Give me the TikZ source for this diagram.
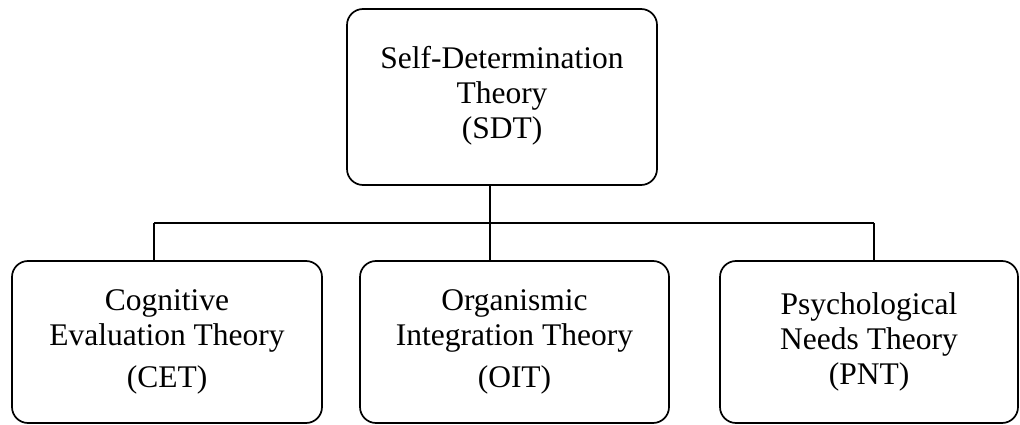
\documentclass[tikz,border=0pt]{standalone}
\usepackage{fontspec}
\setmainfont{Liberation Serif}
\begin{document}
\begin{tikzpicture}[x=1pt,y=1pt,
  box/.style={draw, line width=1.7pt, rounded corners=16pt, align=center,
    inner sep=0pt, font=\fontsize{31.5}{35}\selectfont},
  link/.style={draw, line width=1.5pt}]
\useasboundingbox (0,0) rectangle (1020,-425);
\node[box, minimum width=310pt, minimum height=176pt] (sdt) at (502,-97)
  {Self-Determination\\Theory\\(SDT)\rule[-10pt]{0pt}{10pt}};
\node[box, minimum width=310pt, minimum height=162pt] (cet) at (167,-342)
  {Cognitive\\Evaluation Theory\\[7pt](CET)};
\node[box, minimum width=309pt, minimum height=162pt] (oit) at (514.5,-342)
  {Organismic\\Integration Theory\\[7pt](OIT)};
\node[box, minimum width=298pt, minimum height=162pt] (pnt) at (869,-342)
  {Psychological\\Needs Theory\\(PNT)};
\coordinate (hub) at (490,-223);
\coordinate (jl) at (154,-223);
\coordinate (jr) at (874,-223);
\path[link] (hub |- sdt.south) -- (hub);
\path[link] (jl) -- (jr);
\path[link] (jl) -- (jl |- cet.north);
\path[link] (hub) -- (hub |- oit.north);
\path[link] (jr) -- (jr |- pnt.north);
\end{tikzpicture}
\end{document}
